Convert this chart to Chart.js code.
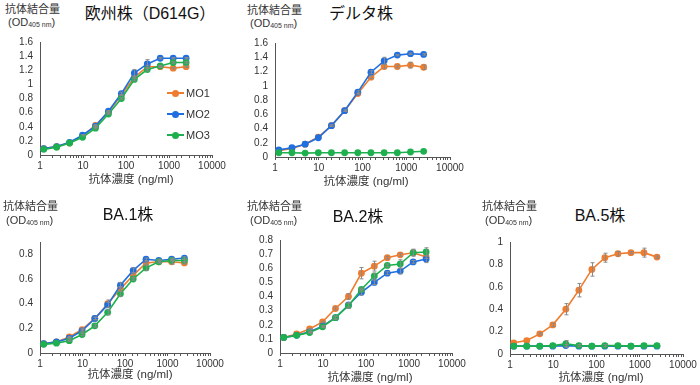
<!DOCTYPE html>
<html>
<head>
<meta charset="utf-8">
<script src="https://cdn.jsdelivr.net/npm/chart.js@4.4.1/dist/chart.umd.min.js"></script>
<style>
  body { margin: 0; background: #fff; }
  #wrap { position: relative; width: 700px; height: 385px; overflow: hidden;
          font-family: "Liberation Sans", Arial, "Noto Sans CJK JP", sans-serif; color: #222; }
  canvas { position: absolute; }
  .t { position: absolute; white-space: nowrap; line-height: 1; }
  .c { transform: translate(-50%, -50%); }
  .l { transform: translateY(-50%); }
  .title { font-size: 16px; color: #111; }
  .ylab { font-size: 11px; color: #333; }
  .ylab sub { font-size: 7px; vertical-align: -1px; }
  .xlab { font-size: 11.5px; color: #333; }
  .leg { position: absolute; font-size: 11px; color: #333; }
  .leg .ln { position: absolute; left: 0; top: 0; width: 17px; height: 2px; transform: translateY(-50%); }
  .leg .dot { position: absolute; left: 5px; top: -3.5px; width: 7px; height: 7px; border-radius: 50%; }
  .leg .tx { position: absolute; left: 19px; top: 0; transform: translateY(-50%); }
</style>
</head>
<body>
<div id="wrap"></div>
<script>
// antibody concentration (ng/ml), 2-fold dilution series
const conc = [1.22, 2.44, 4.88, 9.77, 19.5, 39.1, 78.1, 156, 312.5, 625, 1250, 2500];
const seriesNames = ['MO1', 'MO2', 'MO3'];
const seriesColors = ['#ef7d2f', '#1f6fe0', '#1eb04e'];

// 欧州株 (D614G)
const d614gMO1 = [0.09, 0.12, 0.17, 0.27, 0.42, 0.61, 0.85, 1.10, 1.25, 1.25, 1.23, 1.25];
const d614gMO2 = [0.09, 0.12, 0.18, 0.28, 0.41, 0.62, 0.87, 1.16, 1.29, 1.37, 1.37, 1.37];
const d614gMO3 = [0.08, 0.11, 0.17, 0.25, 0.38, 0.58, 0.80, 1.07, 1.21, 1.26, 1.31, 1.31];
const d614gErrMO1 = [0, 0, 0, 0, 0.01, 0.01, 0.01, 0.02, 0.02, 0.01, 0.01, 0.01];
const d614gErrMO2 = [0, 0, 0, 0.01, 0.01, 0.01, 0.02, 0.05, 0.06, 0.01, 0.01, 0.01];
const d614gErrMO3 = [0, 0, 0, 0, 0.01, 0.01, 0.01, 0.02, 0.02, 0.01, 0.01, 0.01];

// デルタ株
const deltaMO1 = [0.09, 0.12, 0.18, 0.28, 0.44, 0.65, 0.89, 1.12, 1.27, 1.27, 1.29, 1.26];
const deltaMO2 = [0.10, 0.13, 0.18, 0.27, 0.44, 0.65, 0.91, 1.19, 1.35, 1.43, 1.45, 1.44];
const deltaMO3 = [0.06, 0.06, 0.055, 0.06, 0.06, 0.06, 0.06, 0.06, 0.06, 0.06, 0.07, 0.08];
const deltaErrMO1 = [0, 0, 0, 0, 0.01, 0.01, 0.01, 0.02, 0.03, 0.02, 0.04, 0.03];
const deltaErrMO2 = [0, 0, 0, 0, 0.01, 0.01, 0.02, 0.02, 0.05, 0.01, 0.01, 0.01];
const deltaErrMO3 = [0, 0, 0, 0, 0, 0, 0, 0, 0, 0, 0, 0];

// BA.1株
const ba1MO1 = [0.075, 0.09, 0.13, 0.19, 0.28, 0.40, 0.52, 0.63, 0.73, 0.74, 0.74, 0.73];
const ba1MO2 = [0.075, 0.09, 0.12, 0.18, 0.28, 0.39, 0.55, 0.67, 0.76, 0.75, 0.76, 0.77];
const ba1MO3 = [0.07, 0.08, 0.10, 0.15, 0.22, 0.33, 0.48, 0.60, 0.69, 0.74, 0.75, 0.75];
const ba1ErrMO1 = [0, 0, 0.005, 0.01, 0.01, 0.03, 0.02, 0.02, 0.01, 0.01, 0.02, 0.01];
const ba1ErrMO2 = [0, 0, 0.005, 0.01, 0.01, 0.02, 0.02, 0.02, 0.01, 0.01, 0.01, 0.01];
const ba1ErrMO3 = [0, 0, 0.005, 0.01, 0.01, 0.02, 0.02, 0.01, 0.02, 0.01, 0.01, 0.01];

// BA.2株
const ba2MO1 = [0.11, 0.135, 0.17, 0.22, 0.315, 0.40, 0.565, 0.615, 0.675, 0.695, 0.71, 0.68];
const ba2MO2 = [0.11, 0.125, 0.15, 0.19, 0.25, 0.34, 0.43, 0.50, 0.565, 0.58, 0.645, 0.665];
const ba2MO3 = [0.11, 0.125, 0.145, 0.185, 0.25, 0.335, 0.45, 0.545, 0.62, 0.63, 0.71, 0.715];
const ba2ErrMO1 = [0, 0, 0.005, 0.005, 0.01, 0.02, 0.04, 0.035, 0.01, 0.01, 0.02, 0.01];
const ba2ErrMO2 = [0, 0, 0.005, 0.005, 0.01, 0.015, 0.02, 0.015, 0.01, 0.02, 0.01, 0.025];
const ba2ErrMO3 = [0, 0, 0.005, 0.005, 0.01, 0.02, 0.01, 0.02, 0.01, 0.03, 0.025, 0.03];

// BA.5株
const ba5MO1 = [0.10, 0.12, 0.18, 0.26, 0.40, 0.57, 0.755, 0.86, 0.895, 0.905, 0.905, 0.865];
const ba5MO2 = [0.07, 0.07, 0.07, 0.07, 0.075, 0.07, 0.07, 0.07, 0.07, 0.07, 0.07, 0.07];
const ba5MO3 = [0.07, 0.07, 0.07, 0.075, 0.09, 0.075, 0.07, 0.075, 0.075, 0.07, 0.075, 0.075];
const ba5ErrMO1 = [0, 0, 0.01, 0.015, 0.05, 0.06, 0.06, 0.04, 0.02, 0.01, 0.04, 0.01];
const ba5ErrMO2 = [0, 0, 0, 0, 0.01, 0, 0, 0, 0, 0, 0, 0];
const ba5ErrMO3 = [0, 0, 0, 0, 0.03, 0.01, 0, 0.01, 0, 0, 0, 0];

const panels = [
  { title: '欧州株（D614G）', values: [d614gMO1, d614gMO2, d614gMO3], errors: [d614gErrMO1, d614gErrMO2, d614gErrMO3],
    yMax: 1.6, yStep: 0.2, area: { l: 40, r: 212, t: 37, b: 155 },
    titlePos: [150, 14], yLabPos: [5, 9, 22], xLabPos: [131, 180] },
  { title: 'デルタ株', values: [deltaMO1, deltaMO2, deltaMO3], errors: [deltaErrMO1, deltaErrMO2, deltaErrMO3],
    yMax: 1.6, yStep: 0.2, area: { l: 275, r: 450, t: 38, b: 157 },
    titlePos: [361, 14], yLabPos: [247, 10, 23], xLabPos: [366, 182] },
  { title: 'BA.1株', values: [ba1MO1, ba1MO2, ba1MO3], errors: [ba1ErrMO1, ba1ErrMO2, ba1ErrMO3],
    yMax: 0.9, yStep: 0.2, area: { l: 40, r: 210, t: 237, b: 353 },
    titlePos: [128, 215], yLabPos: [3, 206, 220], xLabPos: [130, 375] },
  { title: 'BA.2株', values: [ba2MO1, ba2MO2, ba2MO3], errors: [ba2ErrMO1, ba2ErrMO2, ba2ErrMO3],
    yMax: 0.8, yStep: 0.1, area: { l: 280, r: 452, t: 235, b: 353 },
    titlePos: [358, 217], yLabPos: [247, 206, 220], xLabPos: [370, 378] },
  { title: 'BA.5株', values: [ba5MO1, ba5MO2, ba5MO3], errors: [ba5ErrMO1, ba5ErrMO2, ba5ErrMO3],
    yMax: 1, yStep: 0.2, area: { l: 510, r: 683, t: 237, b: 354 },
    titlePos: [600, 216], yLabPos: [482, 206, 220], xLabPos: [601, 378] }
];

const Y_W = 34, X_H = 18, PAD_T = 8, PAD_R = 22;
const wrap = document.getElementById('wrap');

function addText(cls, html, x, y) {
  const el = document.createElement('div');
  el.className = 't ' + cls;
  el.innerHTML = html;
  el.style.left = x + 'px';
  el.style.top = y + 'px';
  wrap.appendChild(el);
}

// error bars drawn through the chart's own scales
const errorBars = {
  id: 'errorBars',
  afterDatasetsDraw(chart) {
    const { ctx, scales: { x, y } } = chart;
    ctx.save();
    ctx.strokeStyle = '#8a8a8a';
    ctx.lineWidth = 1;
    chart.data.datasets.forEach(ds => {
      (ds.errors || []).forEach((e, i) => {
        if (!e) return;
        const px = Math.round(x.getPixelForValue(ds.data[i].x)) + 0.5;
        const top = y.getPixelForValue(ds.data[i].y + e);
        const bot = y.getPixelForValue(ds.data[i].y - e);
        ctx.beginPath();
        ctx.moveTo(px, top); ctx.lineTo(px, bot);
        ctx.moveTo(px - 2, top); ctx.lineTo(px + 2, top);
        ctx.moveTo(px - 2, bot); ctx.lineTo(px + 2, bot);
        ctx.stroke();
      });
    });
    ctx.restore();
  }
};

panels.forEach(p => {
  const a = p.area;
  const canvas = document.createElement('canvas');
  const w = (a.r - a.l) + Y_W + PAD_R;
  const h = (a.b - a.t) + PAD_T + X_H;
  canvas.width = w; canvas.height = h;
  canvas.style.left = (a.l - Y_W) + 'px';
  canvas.style.top = (a.t - PAD_T) + 'px';
  canvas.style.width = w + 'px';
  canvas.style.height = h + 'px';
  wrap.appendChild(canvas);

  new Chart(canvas, {
    type: 'line',
    data: {
      datasets: seriesNames.map((name, s) => ({
        label: name,
        data: conc.map((c, i) => ({ x: c, y: p.values[s][i] })),
        errors: p.errors[s],
        order: 2 - s,
        borderColor: seriesColors[s],
        backgroundColor: seriesColors[s],
        borderWidth: 1.6,
        pointRadius: 3.4,
        pointBorderWidth: 0,
        tension: 0
      }))
    },
    options: {
      responsive: false,
      animation: false,
      layout: { padding: { left: 0, top: PAD_T, right: PAD_R, bottom: 0 } },
      plugins: { legend: { display: false }, tooltip: { enabled: false } },
      scales: {
        x: {
          type: 'logarithmic',
          min: 1,
          max: 10000,
          afterFit: scale => { scale.height = X_H; },
          border: { display: true, color: '#555', width: 1 },
          grid: { drawOnChartArea: false, drawTicks: true, tickLength: 3, tickColor: '#555' },
          ticks: {
            autoSkip: false,
            maxRotation: 0,
            padding: 2,
            color: '#333',
            font: { family: 'Liberation Sans, Arial', size: 10 },
            callback: v => {
              const l = Math.log10(v);
              return Math.abs(l - Math.round(l)) < 1e-9 ? String(v) : '';
            }
          }
        },
        y: {
          min: 0,
          max: p.yMax,
          afterFit: scale => { scale.width = Y_W; },
          border: { display: true, color: '#555', width: 1 },
          grid: { display: true, drawOnChartArea: false, drawTicks: false },
          ticks: {
            stepSize: p.yStep,
            includeBounds: false,
            autoSkip: false,
            padding: 7,
            color: '#333',
            font: { family: 'Liberation Sans, Arial', size: 10 },
            callback: v => String(+v.toFixed(2))
          }
        }
      }
    },
    plugins: [errorBars]
  });

  addText('c title', p.title, p.titlePos[0], p.titlePos[1]);
  addText('l ylab', '抗体結合量', p.yLabPos[0], p.yLabPos[1]);
  addText('l ylab', '(OD<sub>405 nm</sub>)', p.yLabPos[0] + 3, p.yLabPos[2]);
  addText('c xlab', '抗体濃度 (ng/ml)', p.xLabPos[0], p.xLabPos[1]);
});

// legend inside the first panel
const legendY = [93, 114, 135];
seriesNames.forEach((name, s) => {
  const el = document.createElement('div');
  el.className = 'leg';
  el.style.left = '167px';
  el.style.top = legendY[s] + 'px';
  el.innerHTML = '<div class="ln" style="background:' + seriesColors[s] + '"></div>' +
    '<div class="dot" style="background:' + seriesColors[s] + '"></div>' +
    '<div class="tx">' + name + '</div>';
  wrap.appendChild(el);
});
</script>
</body>
</html>
